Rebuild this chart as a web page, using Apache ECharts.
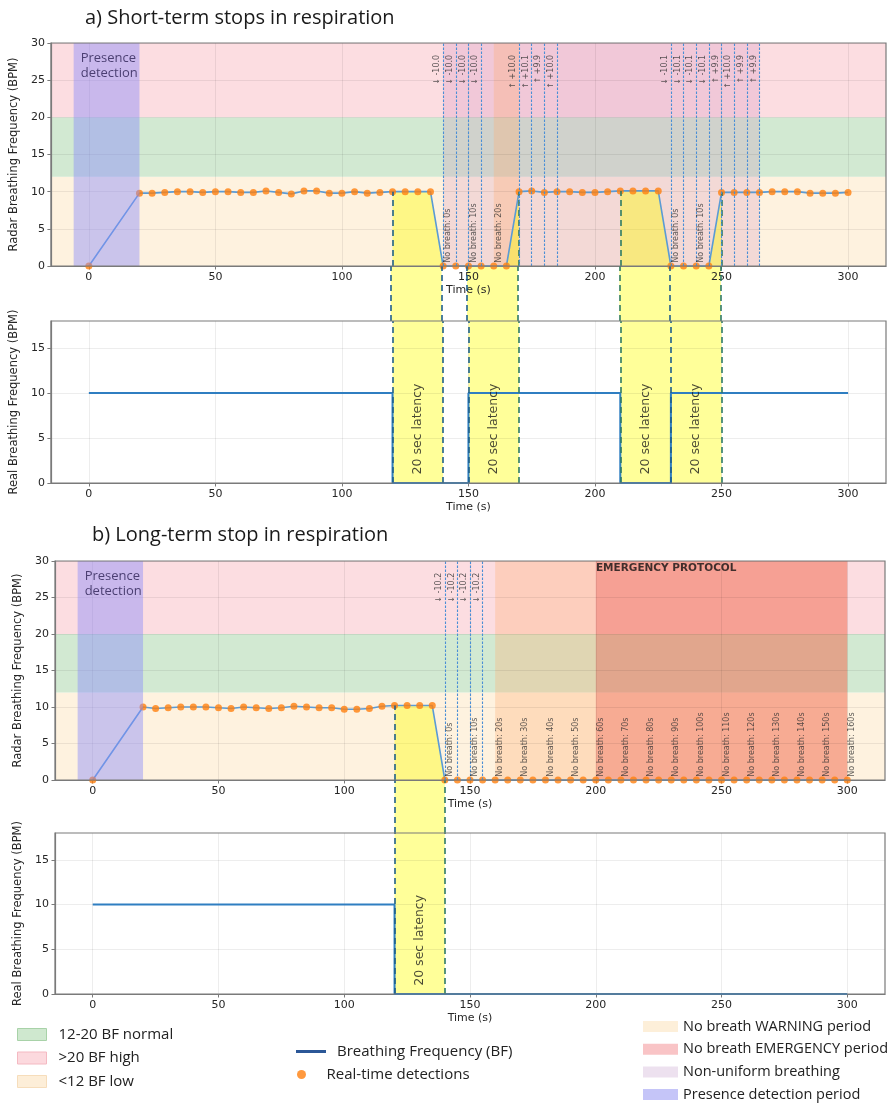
<!DOCTYPE html>
<html><head><meta charset="utf-8">
<script src="https://cdn.jsdelivr.net/npm/echarts@6/dist/echarts.min.js"></script>
<style>html,body{margin:0;padding:0;background:#fff}#c{width:894px;height:1103px}</style>
</head><body><div id="c"></div>
<script>
// ================= DATA =================
const xTicks = [0, 50, 100, 150, 200, 250, 300];
const yTicksRadar = [0, 5, 10, 15, 20, 25, 30];
const yTicksReal = [0, 5, 10, 15];

const bandLow = [0, 12];
const bandNormal = [12, 20];
const bandHigh = [20, 30];
const presencePeriod = [-6, 20];

// ---- panel a : short-term stops ----
const radarTimeA = [0,20,25,30,35,40,45,50,55,60,65,70,75,80,85,90,95,100,105,110,115,120,125,130,135,140,145,150,155,160,165,170,175,180,185,190,195,200,205,210,215,220,225,230,235,240,245,250,255,260,265,270,275,280,285,290,295,300];
const radarValA = [0,9.8,9.8,9.9,10.0,10.0,9.9,10.0,10.0,9.9,9.9,10.1,9.9,9.7,10.1,10.1,9.8,9.8,10.0,9.8,9.9,10.0,10.0,10.0,10.0,0,0,0,0,0,0,10.0,10.1,9.9,10.0,10.0,9.9,9.9,10.0,10.1,10.1,10.1,10.1,0,0,0,0,9.9,9.9,9.9,9.9,10.0,10.0,10.0,9.8,9.8,9.8,9.9];
const realTimeA = [0,120,120,150,150,210,210,230,230,300];
const realValA  = [10,10,0,0,10,10,0,0,10,10];
const latencyA = [[120,140],[150,170],[210,230],[230,250]];
const latencyEdgesA = [120,140,150,170,210,230,250];
const nonUniformA = [[140,265]];
const warningA = [[160,170]];
const emergencyA = [];
const changeTimeA = [140,145,150,155,170,175,180,185,230,235,240,245,250,255,260,265];
const changeLabelA = ['↓ -10.0','↓ -10.0','↓ -10.0','↓ -10.0','↑ +10.0','↑ +10.1','↑ +9.9','↑ +10.0','↓ -10.1','↓ -10.1','↓ -10.1','↓ -10.1','↑ +9.9','↑ +10.0','↑ +9.9','↑ +9.9'];
const noBreathTimeA = [140,150,160,230,240];
const noBreathSecA = [0,10,20,0,10];

// ---- panel b : long-term stop ----
const radarTimeB = [0,20,25,30,35,40,45,50,55,60,65,70,75,80,85,90,95,100,105,110,115,120,125,130,135,140,145,150,155,160,165,170,175,180,185,190,195,200,205,210,215,220,225,230,235,240,245,250,255,260,265,270,275,280,285,290,295,300];
const radarValB = [0,10.0,9.8,9.9,10.0,10.0,10.0,9.9,9.8,10.0,9.9,9.8,9.9,10.1,10.0,9.9,9.9,9.7,9.7,9.8,10.1,10.2,10.2,10.2,10.2,0,0,0,0,0,0,0,0,0,0,0,0,0,0,0,0,0,0,0,0,0,0,0,0,0,0,0,0,0,0,0,0,0];
const realTimeB = [0,120,120,300];
const realValB  = [10,10,0,0];
const latencyB = [[120,140]];
const latencyEdgesB = [120,140];
const nonUniformB = [];
const warningB = [[160,200]];
const emergencyB = [[200,300]];
const changeTimeB = [140,145,150,155];
const changeLabelB = ['↓ -10.2','↓ -10.2','↓ -10.2','↓ -10.2'];
const noBreathTimeB = [140,150,160,170,180,190,200,210,220,230,240,250,260,270,280,290,300];
const noBreathSecB = [0,10,20,30,40,50,60,70,80,90,100,110,120,130,140,150,160];
const emergencyText = ['EMERGENCY PROTOCOL', 228, 29.0];

// ================= STYLE =================
const C = {
  high:'#fcdde1', normal:'#d2e9d2', low:'#fef2df',
  presence:'rgba(140,140,250,0.45)', nonuni:'rgba(200,120,180,0.2)',
  warning:'rgba(255,175,115,0.32)', emergency:'rgba(240,100,72,0.5)',
  yellow:'rgba(255,255,0,0.4)', radarLine:'#5b9bd5', dot:'#ff7f0e',
  realLine:'#2f7ec1', dashBlue:'#1f5f8b', dashGreen:'#2f7a66', dotted:'#4a8fd6',
  frame:'#7a7a7a', text:'#262626'
};
const dashColorA = {120:C.dashBlue,140:C.dashBlue,150:C.dashBlue,170:C.dashGreen,210:C.dashGreen,230:C.dashBlue,250:C.dashGreen};
const dashColorB = {120:C.dashBlue,140:C.dashGreen};
const LATENCY_LABEL_Y = 6;
const CHANGE_LABEL_TOP = 28.4;   // where the top annotation text ends
const NOBREATH_LABEL_BASE = 0.45; // where the bottom annotation text starts
const X_SPAN = 330;               // -15 .. 315

const pairs = (t, v) => t.map((x, i) => [x, v[i]]);
const valAt = (t, v, x) => v[t.indexOf(x)];

const grids = [], xAxes = [], yAxes = [], series = [];

function xAx(gi, show, name) {
  return {type:'value', gridIndex:gi, min:-15, max:315, show:show, z:1.5,
    name:name || '', nameLocation:'middle', nameGap:19,
    nameTextStyle:{fontSize:11, color:C.text, fontFamily:'DejaVu Sans'},
    axisLine:{show:true, onZero:false, lineStyle:{color:C.frame, width:1.2}},
    axisTick:{show:true, length:3.5, customValues:xTicks, lineStyle:{color:C.frame}},
    axisLabel:{customValues:xTicks, fontSize:11, color:C.text, margin:6, fontFamily:'DejaVu Sans'},
    splitLine:{show:true, lineStyle:{color:'rgba(0,0,0,0.07)', width:1}}};
}
function yAx(gi, max, ticks, name) {
  return {type:'value', gridIndex:gi, min:0, max:max, interval:5, z:1.5,
    name:name, nameLocation:'middle', nameGap:28,
    nameTextStyle:{fontSize:11.5, color:C.text, fontFamily:'DejaVu Sans'},
    axisLine:{show:true, onZero:false, lineStyle:{color:C.frame, width:1.2}},
    axisTick:{show:true, length:3.5, customValues:ticks, lineStyle:{color:C.frame}},
    axisLabel:{customValues:ticks, fontSize:11, color:C.text, margin:6, fontFamily:'DejaVu Sans'},
    splitLine:{show:true, lineStyle:{color:'rgba(0,0,0,0.07)', width:1}}};
}
function areaS(name, gi, data, color, z, label) {
  return {type:'line', name:name, xAxisIndex:gi, yAxisIndex:gi, data:[], silent:true,
    markArea:{silent:true, z:z, itemStyle:{color:color}, label:label || {show:false}, data:data}};
}
function textS(gi, data, label) {
  return {type:'scatter', xAxisIndex:gi, yAxisIndex:gi, silent:true, z:6, symbolSize:1,
    itemStyle:{color:'rgba(0,0,0,0)'}, data:data,
    label:Object.assign({show:true, position:'inside', color:'#333', fontFamily:'DejaVu Sans'}, label)};
}
const xr = ranges => ranges.map(r => [{xAxis:r[0]}, {xAxis:r[1]}]);
const yr = r => [[{yAxis:r[0]}, {yAxis:r[1]}]];

function addPanel(P) {
  const g = grids.length;
  const plotW = 894 - P.left - P.right;
  const px = p => p * X_SPAN / plotW;   // pixels -> x data units
  grids.push({left:P.left, right:P.right, top:P.top, height:P.topH, show:true, borderColor:C.frame, borderWidth:1.2, backgroundColor:'transparent', z:6});
  grids.push({left:P.left, right:P.right, top:P.top + P.topH, height:P.gapH, show:false});
  grids.push({left:P.left, right:P.right, top:P.top + P.topH + P.gapH, height:P.botH, show:true, borderColor:C.frame, borderWidth:1.2, backgroundColor:'transparent', z:6});
  xAxes.push(xAx(g, true, 'Time (s)'), xAx(g + 1, false), xAx(g + 2, true, 'Time (s)'));
  yAxes.push(yAx(g, 30, yTicksRadar, 'Radar Breathing Frequency (BPM)'),
             {type:'value', gridIndex:g + 1, min:0, max:1, show:false},
             yAx(g + 2, 18, yTicksReal, 'Real Breathing Frequency (BPM)'));

  // ---- top panel ----
  series.push(areaS('<12 BF low', g, yr(bandLow), C.low, 1));
  series.push(areaS('12-20 BF normal', g, yr(bandNormal), C.normal, 1));
  series.push(areaS('>20 BF high', g, yr(bandHigh), C.high, 1));
  series.push(areaS('Non-uniform breathing', g, xr(P.nonUni), C.nonuni, 1.2));
  series.push(areaS('No breath WARNING period', g, xr(P.warning), C.warning, 1.3));
  series.push(areaS('No breath EMERGENCY period', g, xr(P.emergency), C.emergency, 1.4));
  series.push(areaS('Presence detection period', g, xr([presencePeriod]), C.presence, 4.5,
    {show:true, position:'insideTopLeft', formatter:'Presence\ndetection', color:'#4b3f72',
     fontSize:13, lineHeight:15, fontFamily:'Open Sans', distance:5, offset:[2, 3]}));
  P.latency.forEach(r => {
    series.push({type:'line', xAxisIndex:g, yAxisIndex:g, silent:true, z:1.8, showSymbol:false,
      data:pairs(P.t, P.v).filter(p => p[0] >= r[0] && p[0] <= r[1]),
      lineStyle:{width:0}, areaStyle:{color:C.yellow, opacity:1}});
  });
  series.push({type:'line', name:'Breathing Frequency (BF)', xAxisIndex:g, yAxisIndex:g, z:3,
    data:pairs(P.t, P.v), showSymbol:false, lineStyle:{color:C.radarLine, width:1.6}, itemStyle:{color:C.radarLine}});
  series.push({type:'scatter', name:'Real-time detections', xAxisIndex:g, yAxisIndex:g, z:4,
    data:pairs(P.t, P.v), symbolSize:7, itemStyle:{color:C.dot}});
  // dashed latency edges (from 0 to curve)
  series.push({type:'line', xAxisIndex:g, yAxisIndex:g, data:[], silent:true,
    markLine:{silent:true, symbol:['none','none'], z:4.6, label:{show:false},
      data:P.edges.map(x => [{coord:[x, 0], lineStyle:{color:P.dashColor[x], type:[6,4], width:1.6}},
                              {coord:[x, valAt(P.t, P.v, x)]}])}});
  // change annotations: dotted vertical lines
  series.push({type:'line', xAxisIndex:g, yAxisIndex:g, data:[], silent:true,
    markLine:{silent:true, symbol:['none','none'], z:5,
      lineStyle:{color:C.dotted, type:[2.5,1.5], width:1.1},
      label:{show:false},
      data:P.changeT.map(x => ({xAxis:x}))}});
  // change annotation texts (left of line, rotated, hanging from the top)
  series.push(textS(g, P.changeT.map((x, i) => ({value:[x - px(6), CHANGE_LABEL_TOP], name:P.changeL[i]})),
    {formatter:'{b}', rotate:90, align:'right', verticalAlign:'middle', fontSize:8}));
  // "No breath" texts (right of line, rotated, standing on the axis)
  series.push(textS(g, P.nbT.map((x, i) => ({value:[x + px(5), NOBREATH_LABEL_BASE], name:'No breath: ' + P.nbS[i] + 's'})),
    {formatter:'{b}', rotate:90, align:'left', verticalAlign:'middle', fontSize:8}));
  if (P.emText) {
    series.push(textS(g, [[P.emText[1], P.emText[2]]],
      {formatter:P.emText[0], fontSize:10.5, fontWeight:'bold', color:'#111'}));
  }

  // ---- gap ----
  series.push({type:'line', xAxisIndex:g + 1, yAxisIndex:g + 1, data:[], silent:true,
    markArea:{silent:true, z:1, itemStyle:{color:C.yellow}, data:xr(P.latency)},
    markLine:{silent:true, symbol:['none','none'], z:5, label:{show:false},
      data:P.edges.map(x => ({xAxis:x, lineStyle:{color:P.dashColor[x], type:[6,4], width:1.6}}))}});

  // ---- bottom panel ----
  series.push({type:'line', name:'Breathing Frequency (BF)', xAxisIndex:g + 2, yAxisIndex:g + 2, z:3,
    data:pairs(P.rt, P.rv), showSymbol:false, lineStyle:{color:C.realLine, width:2}, itemStyle:{color:C.realLine},
    markArea:{silent:true, z:1, itemStyle:{color:C.yellow}, data:xr(P.latency)},
    markLine:{silent:true, symbol:['none','none'], z:5, label:{show:false},
      data:P.edges.map(x => ({xAxis:x, lineStyle:{color:P.dashColor[x], type:[6,4], width:1.6}}))}});
  series.push(textS(g + 2, P.latency.map(r => [(r[0] + r[1]) / 2, LATENCY_LABEL_Y]),
    {formatter:'20 sec latency', rotate:90, fontSize:12.5, color:'#1a1a1a'}));
}

addPanel({left:48, right:8, top:43, topH:223, gapH:55, botH:162,
  t:radarTimeA, v:radarValA, rt:realTimeA, rv:realValA, latency:latencyA, edges:latencyEdgesA, dashColor:dashColorA,
  nonUni:nonUniformA, warning:warningA, emergency:emergencyA, changeT:changeTimeA, changeL:changeLabelA,
  nbT:noBreathTimeA, nbS:noBreathSecA});
addPanel({left:55, right:9, top:561, topH:219, gapH:53, botH:161,
  t:radarTimeB, v:radarValB, rt:realTimeB, rv:realValB, latency:latencyB, edges:latencyEdgesB, dashColor:dashColorB,
  nonUni:nonUniformB, warning:warningB, emergency:emergencyB, changeT:changeTimeB, changeL:changeLabelB,
  nbT:noBreathTimeB, nbS:noBreathSecB, emText:emergencyText});

const legText = (fs, pad) => ({fontSize:fs, fontFamily:'Open Sans', color:'#222', padding:[0, 0, 0, pad]});
const option = {
  animation:false,
  backgroundColor:'#fff',
  title:[
    {text:'a) Short-term stops in respiration', left:85, top:8, padding:0,
     textStyle:{fontSize:20, fontWeight:'normal', fontFamily:'Open Sans', color:'#1a1a1a'}},
    {text:'b) Long-term stop in respiration', left:92, top:525, padding:0,
     textStyle:{fontSize:20, fontWeight:'normal', fontFamily:'Open Sans', color:'#1a1a1a'}}
  ],
  legend:[
    {left:17, top:1027, padding:0, orient:'vertical', itemGap:8.5, itemWidth:29, itemHeight:12, selectedMode:false,
     textStyle:legText(15, 7),
     data:[{name:'12-20 BF normal', icon:'rect', itemStyle:{color:'#cfe8cf', borderColor:'#a8d2a8', borderWidth:1}},
           {name:'>20 BF high', icon:'rect', itemStyle:{color:'#fcd9de', borderColor:'#f4b9c2', borderWidth:1}},
           {name:'<12 BF low', icon:'rect', itemStyle:{color:'#fdeed8', borderColor:'#f6ddbb', borderWidth:1}}]},
    {left:296, top:1044, padding:0, orient:'vertical', itemWidth:30, itemHeight:3, selectedMode:false,
     textStyle:legText(15, 6),
     data:[{name:'Breathing Frequency (BF)', icon:'rect', itemStyle:{color:'#2b5797', borderWidth:0}}]},
    {left:297, top:1067, padding:0, orient:'vertical', itemWidth:30, itemHeight:9, selectedMode:false,
     textStyle:legText(15, 5),
     data:[{name:'Real-time detections', icon:'circle', itemStyle:{color:C.dot, borderWidth:0}}]},
    {left:643, top:1019, padding:0, orient:'vertical', itemGap:7.7, itemWidth:35, itemHeight:11, selectedMode:false,
     textStyle:legText(14.5, 0),
     data:[{name:'No breath WARNING period', icon:'rect', itemStyle:{color:'#fdefd9', borderWidth:0}},
           {name:'No breath EMERGENCY period', icon:'rect', itemStyle:{color:'#f9c4c6', borderWidth:0}},
           {name:'Non-uniform breathing', icon:'rect', itemStyle:{color:'#ede1ef', borderWidth:0}},
           {name:'Presence detection period', icon:'rect', itemStyle:{color:'#c5c5f8', borderWidth:0}}]}
  ],
  grid:grids, xAxis:xAxes, yAxis:yAxes, series:series
};
const chart = echarts.init(document.getElementById('c'), null, {renderer:'canvas', width:894, height:1103});
chart.setOption(option);
</script></body></html>
